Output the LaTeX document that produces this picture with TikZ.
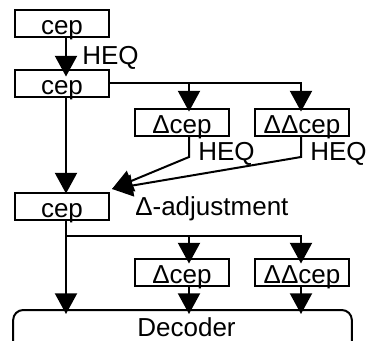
\documentclass[tikz,border=0pt]{standalone}
\usepackage{fontspec}
\setmainfont{Liberation Sans}
\usetikzlibrary{arrows.meta,calc}
\begin{document}
\begin{tikzpicture}[x=0.75pt,y=-0.75pt,
  txt/.style={font=\fontsize{19.5}{22}\selectfont},
  box/.style={draw,txt,line width=1.5pt,minimum width=70.5pt,minimum height=20.25pt,
    inner sep=0pt,text height=16.5pt,text depth=0pt},
  lbl/.style={txt,inner sep=0pt},
  conn/.style={line width=1.5pt},
  arr/.style={conn,-{Triangle[length=15.5pt,width=16.5pt]}}]
\useasboundingbox (0,0) rectangle (368,340);
\clip (0,0) rectangle (368,340);
% boxes
\node[box] (c1) at (62,23) {cep};
\node[box] (c2) at (62,83) {cep};
\node[box] (d1) at (182,122) {Δcep};
\node[box] (dd1) at (302,122) {ΔΔcep};
\node[box] (c3) at (62,206) {cep};
\node[box] (d2) at (182,272) {Δcep};
\node[box] (dd2) at (302,272) {ΔΔcep};
\node[draw,txt,line width=1.5pt,rounded corners=7.5pt,minimum width=254pt,
  minimum height=37.5pt,inner sep=0pt,text height=15pt,text depth=13.5pt] (dec) at (182.5,335) {\hspace*{6pt}Decoder};
% labels
\node[lbl,anchor=base west] at (82,64) {HEQ};
\node[lbl,anchor=base west] at (198,160) {HEQ};
\node[lbl,anchor=base west] at (310,160) {HEQ};
\node[lbl,anchor=base west] at (135,215) {Δ-adjustment};
% helper coordinates
\coordinate (dtop) at ([yshift=-3.75pt]dec.north);
\coordinate (aD1) at ([xshift=5.25pt,yshift=-3pt]d1.north);
\coordinate (aDD1) at ([xshift=-0.75pt,yshift=-3pt]dd1.north);
\coordinate (e1) at (189,157);
\coordinate (e2) at (301,157);
\coordinate (tA) at ([xshift=1.5pt,yshift=1.9pt]c3.north east);
\coordinate (j) at (66,236);
\coordinate (aD2) at ([xshift=5.25pt,yshift=-4.5pt]d2.north);
\coordinate (aDD2) at ([xshift=-0.75pt,yshift=-4.5pt]dd2.north);
\coordinate (bD2) at ([xshift=5.25pt]d2.south);
\coordinate (bDD2) at ([xshift=-0.75pt]dd2.south);
% connectors
\draw[arr] ([xshift=3pt]c1.south) -- ([xshift=3pt,yshift=-6pt]c2.north);
\draw[arr] (c2.east) -| (aDD1);
\draw[arr] (aD1 |- c2.east) -- (aD1);
\draw[arr] ([xshift=5.25pt]d1.south) -- (e1) -- (tA);
\draw[arr] ([xshift=-0.75pt]dd1.south) -- (e2) -- (tA);
\draw[arr] ([xshift=3pt]c2.south) -- ([xshift=3pt,yshift=-1.5pt]c3.north);
\draw[arr] ([xshift=3pt]c3.south) -- (j) -- (j |- dtop);
\draw[arr] (j) -| (aDD2);
\draw[arr] (aD2 |- j) -- (aD2);
\draw[arr] (bD2) -- (bD2 |- dtop);
\draw[arr] (bDD2) -- (bDD2 |- dtop);
\end{tikzpicture}
\end{document}
